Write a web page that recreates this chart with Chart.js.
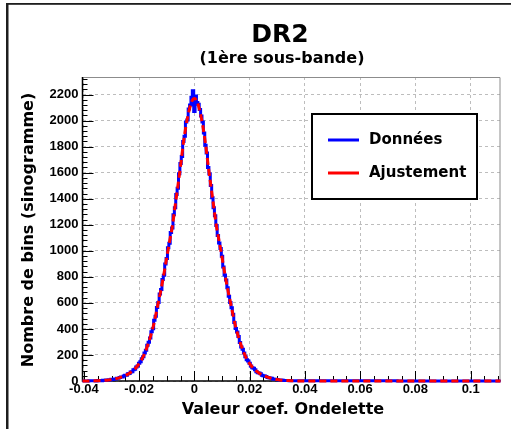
<!DOCTYPE html>
<html>
<head>
<meta charset="utf-8">
<title>DR2</title>
<script src="https://cdn.jsdelivr.net/npm/chart.js@4.4.0/dist/chart.umd.min.js"></script>
<style>
  body { margin: 0; background: #fff; }
  canvas { display: block; }
</style>
</head>
<body>
<canvas id="chart" width="511" height="429"></canvas>
<script>
// histogram bins: first centre and width
const histStart = -0.036
const histStep = 0.0005

// counts per bin, from -0.036 to 0.036
const histCounts = [
  1, 0, 3, 2, 4, 2, 5, 4, 7, 6,
  9, 8, 13, 11, 16, 15, 22, 21, 27, 31,
  31, 39, 44, 45, 55, 58, 70, 72, 86, 91,
  108, 116, 136, 147, 171, 186, 216, 236, 274, 297,
  331, 378, 402, 466, 498, 565, 602, 668, 703, 779,
  812, 899, 941, 1024, 1058, 1141, 1176, 1276, 1330, 1432,
  1480, 1592, 1670, 1725, 1840, 1880, 1990, 2005, 2090, 2120,
  2180, 2230,
  2070,
  2190, 2140, 2125, 2085, 2035, 1990, 1905, 1810, 1752, 1640,
  1590, 1502, 1408, 1330, 1270, 1195, 1118, 1060, 1018, 958,
  876, 815, 775, 716, 651, 602, 563, 512, 449, 404,
  377, 341, 296, 262, 244, 215, 186, 163, 153, 137,
  115, 101, 97, 87, 72, 64, 62, 55, 45, 40,
  38, 34, 27, 25, 24, 21, 16, 14, 14, 12,
  8, 7, 8, 6, 4, 3, 4, 3, 1, 1,
  2, 1
]

// fitted curve, sampled every 0.001 from -0.036 to 0.036
const fitStart = -0.036
const fitStep = 0.001
const fitCounts = [
  1, 2, 3, 4, 6, 8, 11, 15, 20, 26,
  33, 42, 53, 67, 84, 105, 133, 168, 212, 268,
  335, 410, 505, 610, 710, 825, 950, 1070, 1185, 1340,
  1495, 1655, 1825, 1965, 2070, 2145,
  2170,
  2145, 2070, 1965, 1825, 1655, 1495, 1340, 1185, 1070, 950,
  825, 710, 610, 505, 410, 335, 268, 212, 168, 133,
  105, 84, 67, 53, 42, 33, 26, 20, 15, 11,
  8, 6, 4, 3, 2, 1
]

const xRange = [-0.0405, 0.1108]
const yRange = [0, 2335]
const xTicks = [-0.04, -0.02, 0, 0.02, 0.04, 0.06, 0.08, 0.1]
const xTickLabels = ['-0.04', '-0.02', '0', '0.02', '0.04', '0.06', '0.08', '0.1']
const yTicks = [0, 200, 400, 600, 800, 1000, 1200, 1400, 1600, 1800, 2000, 2200]

const seriesNames = ['Données', 'Ajustement']
const seriesColors = ['#0000ff', '#ff0000']

function toPoints(counts, start, step) {
  const pts = counts.map((c, i) => ({ x: +(start + i * step).toFixed(5), y: c }))
  // empty bins out to the edges of the axis
  return [{ x: xRange[0], y: 0 }, ...pts, { x: xRange[1], y: 0 }]
}

const helv = size => ({ family: '"Liberation Sans"', size, weight: 'bold' })

// frame, inner ticks in ROOT style
const rootFrame = {
  id: 'rootFrame',
  beforeDatasetsDraw(chart) {
    const { ctx, chartArea: a, scales: { x, y } } = chart
    ctx.save()
    ctx.strokeStyle = '#8c8c8c'
    ctx.lineWidth = 1
    ctx.beginPath()
    ctx.moveTo(a.left, a.top + 0.5)
    ctx.lineTo(a.right - 0.5, a.top + 0.5)
    ctx.lineTo(a.right - 0.5, a.bottom)
    ctx.stroke()

    ctx.strokeStyle = '#000'
    ctx.lineWidth = 1.5
    ctx.beginPath()
    ctx.moveTo(a.left, a.top)
    ctx.lineTo(a.left, a.bottom)
    ctx.lineTo(a.right, a.bottom)
    ctx.stroke()

    ctx.lineWidth = 1
    ctx.beginPath()
    for (let i = -8; i <= 22; i++) {
      const v = i * 0.005
      if (v < xRange[0] || v > xRange[1]) continue
      const px = Math.round(x.getPixelForValue(v)) + 0.5
      const len = i % 4 === 0 ? 10 : 5
      ctx.moveTo(px, a.bottom)
      ctx.lineTo(px, a.bottom - len)
    }
    for (let i = 0; i <= 60; i++) {
      const v = i * 40
      if (v > yRange[1]) break
      const py = Math.round(y.getPixelForValue(v)) + 0.5
      const len = i % 5 === 0 ? 11 : 5
      ctx.moveTo(a.left, py)
      ctx.lineTo(a.left + len, py)
    }
    ctx.stroke()
    ctx.restore()
  },
  afterDraw(chart) {
    const { ctx } = chart
    ctx.save()
    // pad border
    ctx.fillStyle = '#1e1e1e'
    ctx.fillRect(6, 3, 2.5, 426)
    ctx.fillRect(6, 3, 505, 1.8)

    ctx.fillStyle = '#000'
    ctx.textAlign = 'center'
    ctx.textBaseline = 'middle'
    ctx.font = 'bold 25px "DejaVu Sans"'
    ctx.fillText('DR2', 280, 35)
    ctx.font = 'bold 16px "DejaVu Sans"'
    ctx.fillText('(1ère sous-bande)', 282, 59)
    ctx.fillText('Valeur coef. Ondelette', 283, 410)
    ctx.save()
    ctx.translate(29, 230)
    ctx.rotate(-Math.PI / 2)
    ctx.fillText('Nombre de bins (sinogramme)', 0, 0)
    ctx.restore()

    // legend box
    const box = { left: 312, top: 114, right: 477, bottom: 199 }
    ctx.fillStyle = '#fff'
    ctx.fillRect(box.left, box.top, box.right - box.left, box.bottom - box.top)
    ctx.strokeStyle = '#000'
    ctx.lineWidth = 2
    ctx.strokeRect(box.left, box.top, box.right - box.left, box.bottom - box.top)
    ctx.font = 'bold 15px "DejaVu Sans"'
    ctx.textAlign = 'left'
    seriesNames.forEach((name, i) => {
      const ly = 140 + i * 33
      ctx.strokeStyle = seriesColors[i]
      ctx.lineWidth = 3
      ctx.beginPath()
      ctx.moveTo(328, ly)
      ctx.lineTo(359, ly)
      ctx.stroke()
      ctx.fillStyle = '#000'
      ctx.fillText(name, 369, ly)
    })
    ctx.restore()
  }
}

new Chart('chart', {
  type: 'line',
  data: {
    datasets: [
      {
        label: seriesNames[0],
        data: toPoints(histCounts, histStart, histStep),
        borderColor: seriesColors[0],
        borderWidth: 3,
        stepped: 'middle',
        pointRadius: 0,
        clip: 4,
        order: 1
      },
      {
        label: seriesNames[1],
        data: toPoints(fitCounts, fitStart, fitStep),
        borderColor: seriesColors[1],
        borderWidth: 3,
        borderDash: [7, 4],
        cubicInterpolationMode: 'monotone',
        pointRadius: 0,
        clip: 4,
        order: 0
      }
    ]
  },
  options: {
    responsive: false,
    animation: false,
    devicePixelRatio: 1,
    layout: { padding: { top: 77, right: 10.5, left: 0, bottom: 0 } },
    plugins: {
      legend: { display: false },
      tooltip: { enabled: false }
    },
    scales: {
      x: {
        type: 'linear',
        min: xRange[0],
        max: xRange[1],
        afterBuildTicks: s => { s.ticks = xTicks.map(v => ({ value: v })) },
        afterFit: s => { s.height = 48 },
        ticks: {
          autoSkip: false,
          maxRotation: 0,
          padding: 1,
          color: '#000',
          font: helv(13),
          callback: (v, i) => xTickLabels[i]
        },
        grid: { color: '#bdbdbd', lineWidth: 1, drawTicks: false },
        border: { display: false, dash: [3, 3] }
      },
      y: {
        min: yRange[0],
        max: yRange[1],
        afterBuildTicks: s => { s.ticks = yTicks.map(v => ({ value: v })) },
        afterFit: s => { s.width = 82.5 },
        ticks: {
          padding: 4,
          color: '#000',
          font: helv(13),
          callback: v => String(v)
        },
        grid: { color: '#bdbdbd', lineWidth: 1, drawTicks: false },
        border: { display: false, dash: [3, 3] }
      }
    }
  },
  plugins: [rootFrame]
})
</script>
</body>
</html>
